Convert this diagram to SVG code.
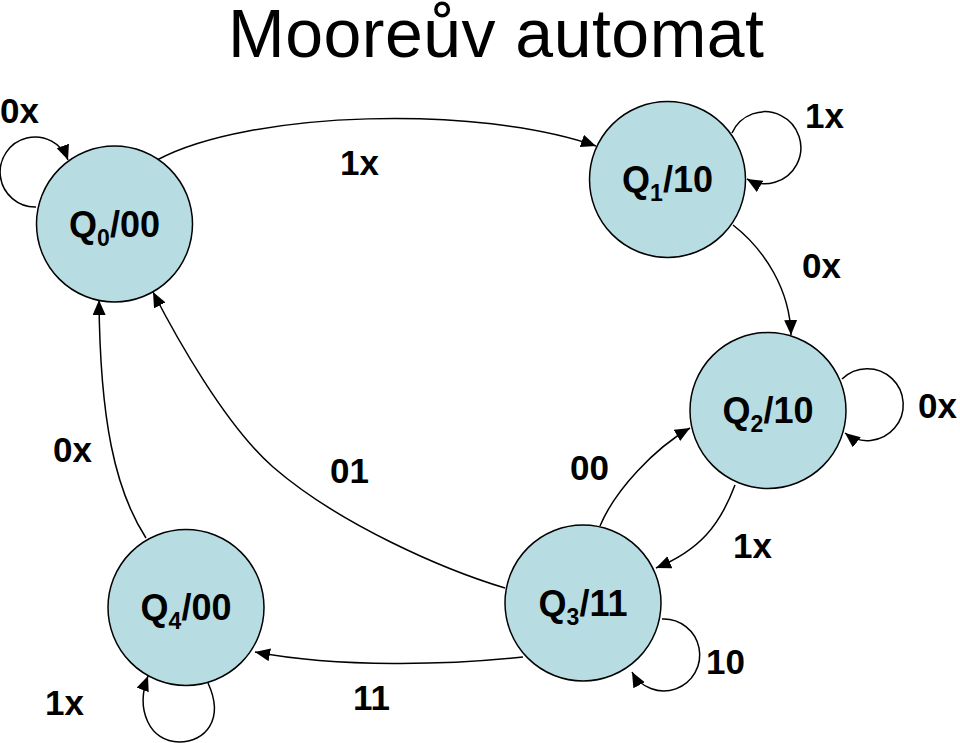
<svg xmlns="http://www.w3.org/2000/svg" width="960" height="743" viewBox="0 0 960 743">
<defs>
<marker id="arr" markerUnits="userSpaceOnUse" markerWidth="16" markerHeight="14" refX="15" refY="6.5" orient="auto">
<path d="M0,0 L15,6.5 L0,13 z" fill="#000"/>
</marker>
<style>
.node circle{fill:#b7dde2;stroke:#000;stroke-width:1.5}
.node text{font-family:"Liberation Sans",Arial,sans-serif;font-weight:bold;font-size:36px;text-anchor:middle;fill:#000}
.sub{font-size:23px}
#connectors path{fill:none;stroke:#000;stroke-width:1.5;marker-end:url(#arr)}
.lbl{font-family:"Liberation Sans",Arial,sans-serif;font-weight:bold;font-size:35px;fill:#000}
.title{font-family:"Liberation Sans",Arial,sans-serif;font-size:68px;text-anchor:middle;fill:#000}
</style>
</defs>
<rect width="960" height="743" fill="#fff"/>
<text class="title" x="496" y="57" textLength="536" lengthAdjust="spacing">Mooreův automat</text>

<g id="connectors">
<path d="M157,160 C250,110 480,105 596,146"/>
<path d="M733,225 C765,250 790,290 791,335"/>
<path d="M600,526 C615,490 655,448 690,428"/>
<path d="M735,485 C720,525 700,550 656,568"/>
<path d="M505,588 C445,570 340,525 273,467 C225,425 175,335 153,292"/>
<path d="M146,538 C115,490 100,420 99,300"/>
<path d="M523,657 C450,665 340,668 255,652"/>
<path d="M36,207 A35,35 0 1 1 68,160"/>
<path d="M732,133 A36,36 0 1 1 747,179"/>
<path d="M842,379 A36,36 0 1 1 845,433"/>
<path d="M662,619 A36,36 0 1 1 632,672"/>
<path d="M208,683 C225,720 205,742 179,742 C150,742 135,710 148,676"/>
</g>

<g id="Q0" class="node"><circle cx="114.5" cy="224" r="78"/><text x="114.5" y="237">Q<tspan class="sub" dy="9">0</tspan><tspan dy="-9">/00</tspan></text></g>
<g id="Q1" class="node"><circle cx="667.5" cy="179.5" r="78"/><text x="667.5" y="192">Q<tspan class="sub" dy="9">1</tspan><tspan dy="-9">/10</tspan></text></g>
<g id="Q2" class="node"><circle cx="768" cy="410.5" r="78"/><text x="768" y="423">Q<tspan class="sub" dy="9">2</tspan><tspan dy="-9">/10</tspan></text></g>
<g id="Q3" class="node"><circle cx="583" cy="603" r="78"/><text x="583" y="616">Q<tspan class="sub" dy="9">3</tspan><tspan dy="-9">/11</tspan></text></g>
<g id="Q4" class="node"><circle cx="186" cy="607.5" r="78"/><text x="186" y="620">Q<tspan class="sub" dy="9">4</tspan><tspan dy="-9">/00</tspan></text></g>

<g id="labels">
<text class="lbl" x="0" y="123">0x</text>
<text class="lbl" x="340" y="175">1x</text>
<text class="lbl" x="805" y="128">1x</text>
<text class="lbl" x="802" y="278">0x</text>
<text class="lbl" x="918" y="418">0x</text>
<text class="lbl" x="53" y="462">0x</text>
<text class="lbl" x="330" y="483">01</text>
<text class="lbl" x="570" y="480">00</text>
<text class="lbl" x="733" y="558">1x</text>
<text class="lbl" x="706" y="674">10</text>
<text class="lbl" x="353" y="710">11</text>
<text class="lbl" x="45" y="715">1x</text>
</g>
</svg>
